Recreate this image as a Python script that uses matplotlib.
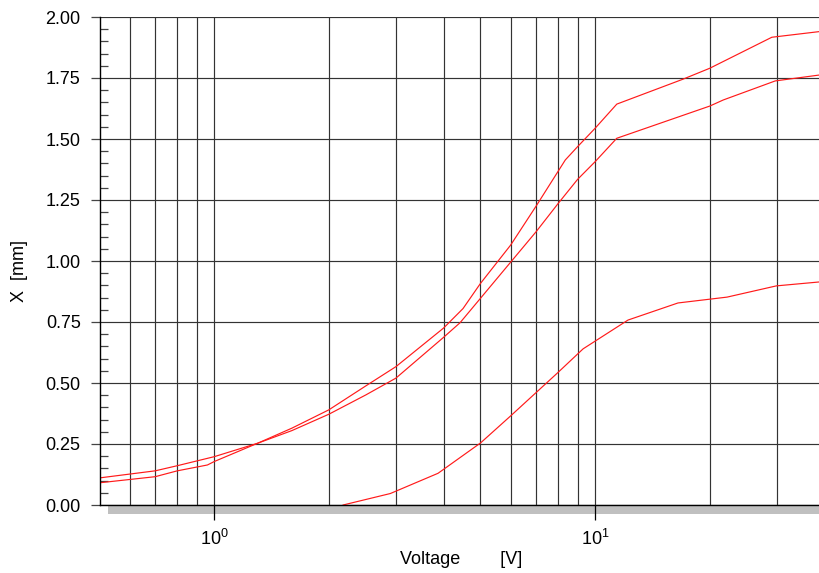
import matplotlib
matplotlib.use("Agg")
import matplotlib.pyplot as plt
from matplotlib.ticker import FixedLocator, FixedFormatter, MultipleLocator, NullFormatter
from matplotlib.patches import Rectangle

plt.rcParams['font.family'] = ['Liberation Sans', 'DejaVu Sans']
plt.rcParams['mathtext.fontset'] = 'custom'
plt.rcParams['mathtext.rm'] = 'Liberation Sans'
plt.rcParams['mathtext.it'] = 'Liberation Sans'

# Data
v_top = [0.5, 0.7, 0.8, 0.96, 1.0, 1.3, 1.6, 2.0, 2.5, 3.0, 4.0, 4.5, 5.0, 6.0, 7.0, 8.35, 9.0, 10.0, 11.4, 17.0, 20.0, 29.1, 38.7]
x_top = [0.091, 0.116, 0.14, 0.164, 0.178, 0.253, 0.315, 0.39, 0.488, 0.567, 0.725, 0.805, 0.908, 1.065, 1.225, 1.414, 1.469, 1.544, 1.643, 1.745, 1.79, 1.917, 1.94]

v_mid = [0.5, 0.7, 0.8, 1.0, 1.3, 1.6, 2.0, 2.5, 3.0, 4.0, 4.42, 5.0, 6.0, 7.0, 8.0, 9.0, 10.0, 11.4, 20.0, 21.7, 29.7, 38.7]
x_mid = [0.111, 0.14, 0.161, 0.198, 0.253, 0.305, 0.372, 0.451, 0.52, 0.687, 0.747, 0.847, 0.995, 1.12, 1.236, 1.335, 1.407, 1.503, 1.635, 1.66, 1.738, 1.762]

v_low = [2.18, 2.9, 3.87, 5.0, 6.0, 7.95, 9.3, 12.2, 16.5, 22.2, 29.9, 38.7]
x_low = [0.0, 0.047, 0.13, 0.254, 0.365, 0.54, 0.64, 0.758, 0.828, 0.852, 0.898, 0.914]

x_major = [1, 10]
x_major_labels = [r'$10^{0}$', r'$10^{1}$']
x_minor = [0.6, 0.7, 0.8, 0.9, 2, 3, 4, 5, 6, 7, 8, 9, 20, 30]

W, H = 819, 573
fig = plt.figure(figsize=(W / 100, H / 100), dpi=100)
left, right, top, bottom = 99.5, 819, 17, 505
ax = fig.add_axes([left / W, 1 - bottom / H, (right - left) / W, (bottom - top) / H])

ax.set_xscale('log')
ax.set_xlim(0.5, 38.7)
ax.set_ylim(0, 2.0)

grid_col = '#333333'
for s in ['top', 'right']:
    ax.spines[s].set_visible(False)
for s in ['left', 'bottom']:
    ax.spines[s].set_color('black')
    ax.spines[s].set_linewidth(1.0)
    ax.spines[s].set_zorder(3)

ax.xaxis.set_major_locator(FixedLocator(x_major))
ax.xaxis.set_major_formatter(FixedFormatter(x_major_labels))
ax.xaxis.set_minor_locator(FixedLocator(x_minor))
ax.xaxis.set_minor_formatter(NullFormatter())
ax.yaxis.set_major_locator(MultipleLocator(0.25))
ax.yaxis.set_minor_locator(MultipleLocator(0.05))
ax.yaxis.set_major_formatter(plt.FuncFormatter(lambda v, p: f'{v:.2f}'))

ax.tick_params(axis='x', which='major', direction='out', length=11, width=0.9, pad=6, labelsize=13, color='black')
ax.tick_params(axis='x', which='minor', length=0)
ax.tick_params(axis='y', which='major', direction='out', length=6.5, width=0.9, pad=7, labelsize=13, color='#444444')
ax.tick_params(axis='y', which='minor', direction='in', length=6, width=0.9, color='#444444')

ax.xaxis.grid(True, which='both', color=grid_col, linewidth=0.85)
ax.yaxis.grid(True, which='major', color=grid_col, linewidth=0.85)
ax.set_axisbelow(True)

line_kw = dict(color='#ff1a1a', linewidth=0.85)
ax.plot(v_top, x_top, **line_kw)
ax.plot(v_mid, x_mid, **line_kw)
ax.plot(v_low, x_low, **line_kw)

# grey shadow bar under the x axis
bar = Rectangle((108 / W, 1 - 513.5 / H), 1 - 108 / W, 7.5 / H,
                transform=fig.transFigure, facecolor='#c0c0c0',
                edgecolor='none', zorder=0.5, clip_on=False)
ax.add_patch(bar)

ax.set_xlabel('Voltage        [V]', fontsize=13, va='center')
ax.xaxis.set_label_coords((461 - left) / (right - left), (bottom - 560) / (bottom - top))
ax.set_ylabel('X  [mm]', fontsize=13, va='center')
ax.yaxis.set_label_coords((20 - left) / (right - left), (bottom - 271) / (bottom - top))

fig.savefig('out.png', dpi=100)
